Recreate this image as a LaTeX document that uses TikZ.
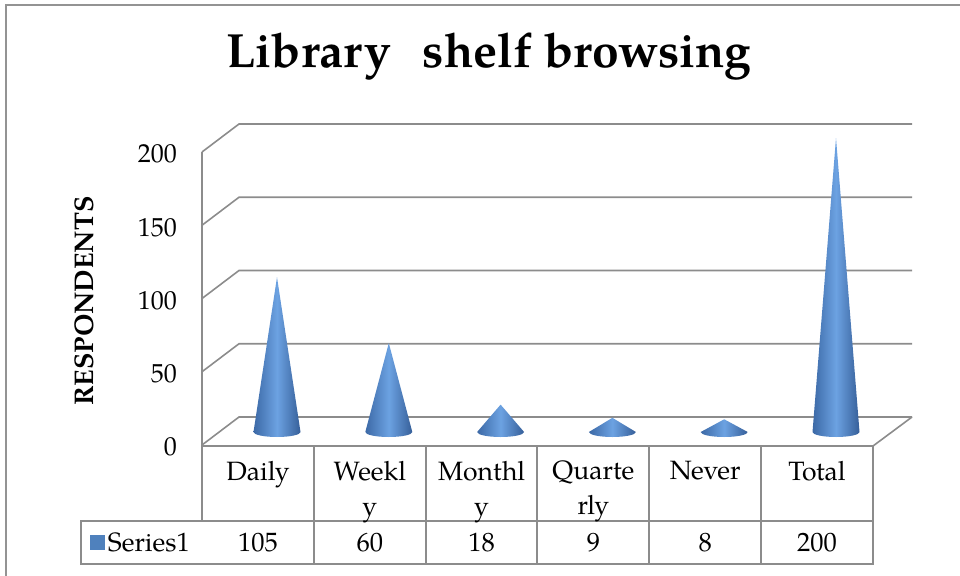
\documentclass[tikz,border=0pt]{standalone}
\usepackage{fontspec}
\setmainfont{texgyrepagella}[Extension=.otf,UprightFont=*-regular,
  BoldFont=*-bold,ItalicFont=*-italic,BoldItalicFont=*-bolditalic]
\usetikzlibrary{positioning,calc}
\definecolor{serieblue}{HTML}{4F81BD}
\definecolor{coneedge}{HTML}{3C69A6}
\definecolor{conedark}{HTML}{365F99}
\definecolor{conelight}{HTML}{6CA2E2}
\definecolor{gridgray}{HTML}{8C8C8C}
\tikzset{
  % diagram
  gridl/.style={draw=gridgray,line width=1.6pt},
  tabl/.style={draw=gridgray,line width=2pt},
  frame/.style={draw=gray!85,line width=2.2pt},
  cone/.style={left color=coneedge,right color=conedark,middle color=conelight,draw=none},
  % text
  ticklbl/.style={anchor=east,inner sep=0pt,font=\fontsize{26}{30}\selectfont},
  catlbl/.style={anchor=north,inner sep=0pt,align=center,font=\fontsize{26.5}{35}\selectfont},
  vallbl/.style={inner sep=0pt,font=\fontsize{26.5}{30}\selectfont},
}
\begin{document}
\begin{tikzpicture}[x=1pt,y=-1pt]
\useasboundingbox (0,0) rectangle (960,575);
  \draw[frame] (6,580) -- (6,5) -- (965,5);
  \node[font=\bfseries\fontsize{48}{56}\selectfont] (title) at (489,57)
    {Library\hspace{32pt}shelf browsing};
  \node[rotate=90,font=\bfseries\fontsize{27}{32}\selectfont] (ytitle) at (84,301) {RESPONDENTS};
  % walls and grid
  \foreach \v in {0,50,100,150,200} {
    \pgfmathsetmacro\yb{417-1.465*\v}
    \draw[gridl] (202,\yb+28) -- (239,\yb) -- (912,\yb);
    \node[ticklbl] (tick\v) at (177,\yb+30) {\v};
  }
  \draw[gridl] (202,446) -- (202,152);
  \draw[gridl] (202,446) -- (873,446) -- (912,417);
  % table
  \draw[tabl] (202,446) rectangle (873,521);
  \draw[tabl] (81,521) rectangle (873,564);
  \foreach \i in {1,...,5}
    \draw[tabl] ({202+111.8*\i},446) -- ({202+111.8*\i},564);
  \node[fill=serieblue,minimum size=15pt,inner sep=0pt] (legkey) at (97,542) {};
  \node[vallbl,right=3pt of legkey] (series) {Series1};
  % cones
  \foreach \name/\v/\cat [count=\i from 0] in {daily/105/Daily,weekly/60/{Weekl\\y},
      monthly/18/{Monthl\\y},quarterly/9/{Quarte\\rly},never/8/Never,total/200/Total} {
    \pgfmathsetmacro\cx{277+111.8*\i}
    \pgfmathsetmacro\ty{431-1.465*\v}
    \coordinate (tip\name) at (\cx,\ty);
    \shade[cone] (\cx-23.5,432) -- (tip\name) -- (\cx+23.5,432)
      arc[start angle=0,end angle=180,x radius=23.5,y radius=5] -- cycle;
    \node[catlbl] (cat\name) at ({258+111.8*\i},461) {\cat};
    \node[vallbl] (val\name) at ({258+111.8*\i},543) {\v};
  }
\end{tikzpicture}
\end{document}
